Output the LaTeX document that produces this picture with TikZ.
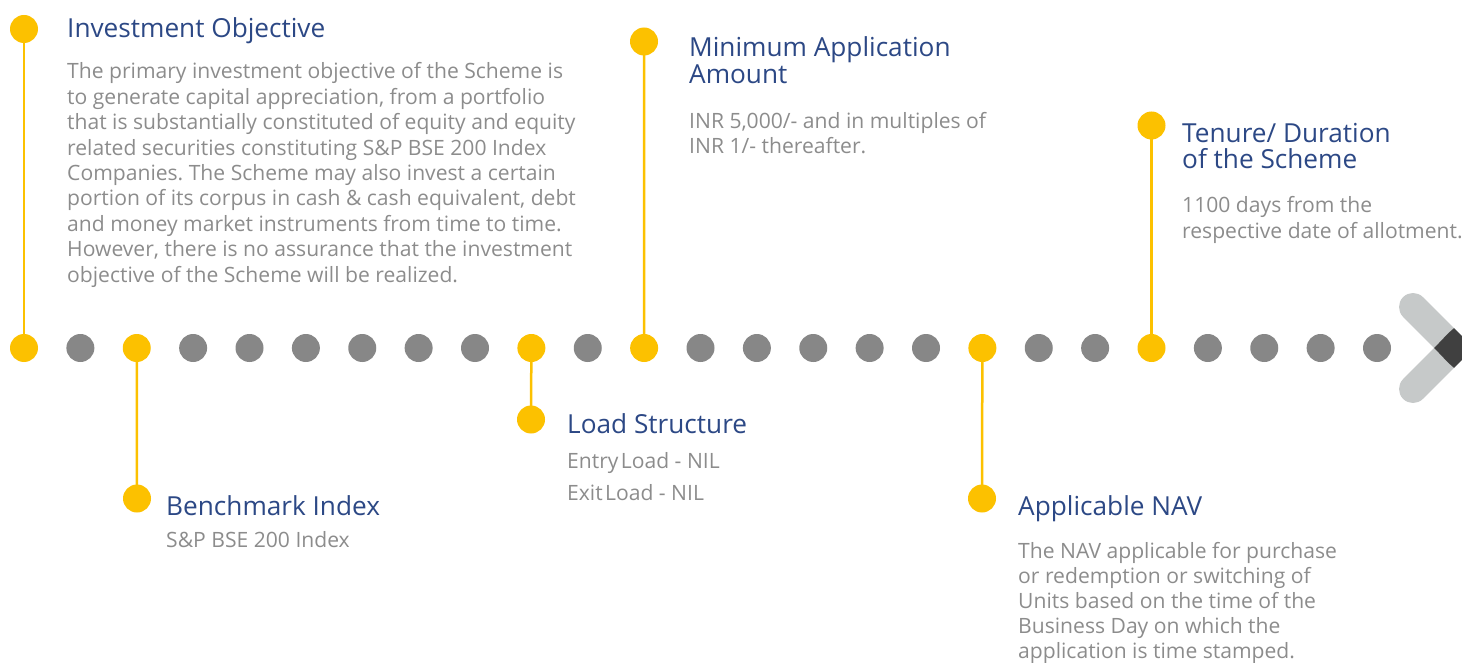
\documentclass[tikz,border=0pt]{standalone}
\usepackage{fontspec}
\setmainfont{Open Sans}
\frenchspacing
\definecolor{tyellow}{RGB}{252,193,0}
\definecolor{tgray}{RGB}{135,135,135}
\definecolor{tblue}{RGB}{44,72,133}
\definecolor{tbody}{RGB}{140,140,140}
\definecolor{chevlight}{RGB}{198,201,201}
\definecolor{chevdark}{RGB}{64,64,64}
\newcommand\textlines[6]{%
  \foreach \t [count=\i from 0] in {#6} {\node[#2] (#1\i) at (#3,{#4+#5*\i}) {\t};}}
\begin{document}
\begin{tikzpicture}[x=1pt,y=-1pt,
  gdot/.style={circle,minimum size=28pt,inner sep=0pt,fill=tgray},
  ydot/.style={circle,minimum size=28pt,inner sep=0pt,fill=tyellow},
  conn/.style={draw=tyellow,line width=2.5pt},
  ttl/.style={anchor=base west,inner sep=0pt,text=tblue,font=\fontsize{26.2}{26.2}\selectfont},
  bdy/.style={anchor=base west,inner sep=0pt,text=tbody,font=\fontsize{21.1}{21.1}\selectfont}]
\useasboundingbox (0,0) rectangle (1462,663);
\clip (0,0) rectangle (1462,663);
% timeline dots
\foreach \k in {0,...,24} {
  \pgfmathsetmacro\xx{24+56.375*\k}
  \ifnum\k=0 \def\st{ydot}\else\ifnum\k=2 \def\st{ydot}\else\ifnum\k=9 \def\st{ydot}\else
  \ifnum\k=11 \def\st{ydot}\else\ifnum\k=17 \def\st{ydot}\else\ifnum\k=20 \def\st{ydot}\else
  \def\st{gdot}\fi\fi\fi\fi\fi\fi
  \node[\st] (d\k) at (\xx,348) {};
}
% chevron
\coordinate (ca) at (1413,307);
\coordinate (cv) at (1454,348);
\coordinate (cb) at (1413,389);
\draw[chevlight,line width=28pt,line cap=round,line join=round] (ca) -- (cv) -- (cb);
\fill[chevdark] (1434.2,348) .. controls (1442,340) and (1448,333) .. (1454,328.2) -- (1473.8,348) -- (1454,367.8) .. controls (1448,363) and (1442,356) .. cycle;
% branch dots
\node[ydot] (inv) at (24,29) {};
\node[ydot] (mina) at (644,41.5) {};
\node[ydot] (ten) at (1151.5,125.5) {};
\node[ydot] (ben) at (137,498.5) {};
\node[ydot] (load) at (531,419.5) {};
\node[ydot] (nav) at (982,498.5) {};
\draw[conn] (inv.center) -- (d0.center);
\draw[conn] (mina.center) -- (d11.center);
\draw[conn] (ten.center) -- (d20.center);
\draw[conn] (d2.center) -- (ben.center);
\draw[conn] (d9.center) -- (load.center);
\draw[conn] (d17.center) -- (nav.center);
% texts
\node[ttl] (invt) at (67,38) {Investment Objective};
\textlines{invb}{bdy}{67}{79}{25.4}{{The primary investment objective of the Scheme is},{to generate capital appreciation, from a portfolio},{that is substantially constituted of equity and equity},{related securities constituting S\&P BSE 200 Index},{Companies. The Scheme may also invest a certain},{portion of its corpus in cash \& cash equivalent, debt},{and money market instruments from time to time.},{However, there is no assurance that the investment},{objective of the Scheme will be realized.}}
\textlines{minat}{ttl}{689}{56.5}{27}{{Minimum Application},{Amount}}
\textlines{minab}{bdy}{689}{128.8}{25.2}{{INR 5,000/- and in multiples of},{INR 1/- thereafter.}}
\textlines{tent}{ttl}{1182}{142.2}{26.6}{{Tenure/ Duration},{of the Scheme}}
\textlines{tenb}{bdy}{1182}{212.2}{26.6}{{1100 days from the},{respective date of allotment.}}
\node[ttl] (bent) at (166,515.5) {Benchmark Index};
\node[bdy] (benb) at (166,547.2) {S\&P BSE 200 Index};
\node[ttl] (loadt) at (567,433.5) {Load Structure};
\textlines{loadb}{bdy}{567}{468.8}{31.7}{{Entry\kern-0.15em{} Load - NIL},{Exit\kern-0.15em{} Load - NIL}}
\node[ttl] (navt) at (1018,515.5) {Applicable NAV};
\textlines{navb}{bdy}{1018}{558.8}{25}{{The NAV applicable for purchase},{or redemption or switching of},{Units based on the time of the},{Business Day on which the},{application is time stamped.}}
\end{tikzpicture}
\end{document}
